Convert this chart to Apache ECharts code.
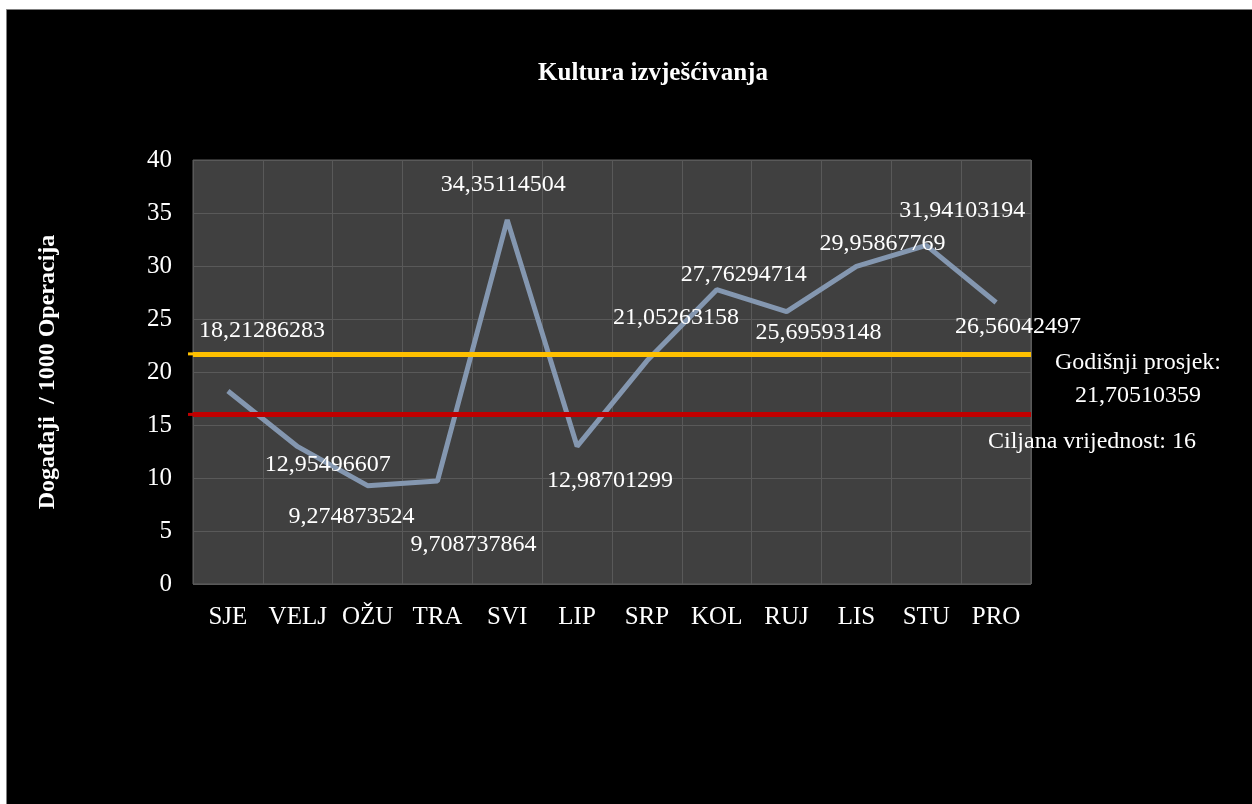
<!DOCTYPE html>
<html>
<head>
<meta charset="utf-8">
<script src="https://cdn.jsdelivr.net/npm/echarts@6/dist/echarts.min.js"></script>
<style>
html,body{margin:0;padding:0;background:#fff;}
#c{width:1252px;height:804px;}
</style>
</head>
<body>
<div id="c"></div>
<script>
const categories = ['SJE','VELJ','OŽU','TRA','SVI','LIP','SRP','KOL','RUJ','LIS','STU','PRO'];
const values = [18.21286283, 12.95496607, 9.274873524, 9.708737864, 34.35114504, 12.98701299, 21.05263158, 27.76294714, 25.69593148, 29.95867769, 31.94103194, 26.56042497];
const yearAverage = 21.70510359;
const target = 16;
const yTicks = [0, 5, 10, 15, 20, 25, 30, 35, 40];

// label placement (pixel offsets from each point), layout only
const labelOffsets = [[34,-60],[30,18],[-16,31],[36,64],[-4,-35],[33,34],[29,-43],[27,-15],[32,21],[26,-23],[36,-35],[22,24]];

const fmt = v => String(v).replace('.', ',');
const FONT = 'Liberation Serif';

const chart = echarts.init(document.getElementById('c'));
chart.setOption({
  backgroundColor: '#ffffff',
  animation: false,
  textStyle: { fontFamily: FONT },
  graphic: [
    { type: 'rect', z: -100, shape: { x: 6.5, y: 9.5, width: 1250, height: 800 },
      style: { fill: '#000000', stroke: '#7f7f7f', lineWidth: 1 } },
    { type: 'text', z: 10, style: { text: 'Kultura izvješćivanja', x: 653, y: 74, align: 'center', verticalAlign: 'middle',
      fill: '#ffffff', font: 'bold 25px "Liberation Serif"' } },
    { type: 'text', z: 10, style: { text: 'Godišnji prosjek:\n' + fmt(yearAverage), x: 1138, y: 379, align: 'center', verticalAlign: 'middle',
      fill: '#ffffff', font: '24px "Liberation Serif"', lineHeight: 33 } },
    { type: 'text', z: 10, style: { text: 'Ciljana vrijednost: ' + fmt(target), x: 1092, y: 442, align: 'center', verticalAlign: 'middle',
      fill: '#ffffff', font: '24px "Liberation Serif"' } }
  ],
  grid: { left: 193, top: 160, right: 221, bottom: 220, show: true, backgroundColor: '#404040', borderColor: '#5f5f5f', borderWidth: 1 },
  xAxis: {
    type: 'category', data: categories, boundaryGap: true,
    axisLine: { show: false }, axisTick: { show: false, interval: 0 },
    axisLabel: { color: '#ffffff', fontSize: 25, fontFamily: FONT, margin: 21, interval: 0 },
    splitLine: { show: true, interval: 0, lineStyle: { color: '#595959', width: 1 } }
  },
  yAxis: {
    type: 'value', min: yTicks[0], max: yTicks[yTicks.length-1], interval: yTicks[1]-yTicks[0],
    name: 'Događaji  / 1000 Operacija', nameLocation: 'middle', nameRotate: 90, nameGap: 133,
    nameTextStyle: { color: '#ffffff', fontSize: 24, fontWeight: 'bold', fontFamily: FONT },
    axisLine: { show: false }, axisTick: { show: false },
    axisLabel: { color: '#ffffff', fontSize: 25, fontFamily: FONT, margin: 21 },
    splitLine: { show: true, lineStyle: { color: '#595959', width: 1 } }
  },
  series: [{
    type: 'line',
    data: values.map((v, i) => ({ value: v, label: { offset: labelOffsets[i] } })),
    symbol: 'circle', symbolSize: 0, showSymbol: true,
    lineStyle: { color: '#8497B0', width: 5 },
    itemStyle: { color: '#8497B0' },
    label: { show: true, position: 'inside', color: '#ffffff', fontSize: 24, fontFamily: FONT,
      align: 'center', verticalAlign: 'middle', formatter: p => fmt(p.value) },
    markLine: {
      silent: true, symbol: ['rect', 'none'], symbolSize: [3, 10],
      label: { show: false },
      data: [
        { yAxis: yearAverage, lineStyle: { color: '#FFC000', width: 5, type: 'solid' }, itemStyle: { color: '#FFC000' } },
        { yAxis: target, lineStyle: { color: '#C00000', width: 5, type: 'solid' }, itemStyle: { color: '#C00000' } }
      ]
    },
    z: 3
  }]
});
</script>
</body>
</html>
